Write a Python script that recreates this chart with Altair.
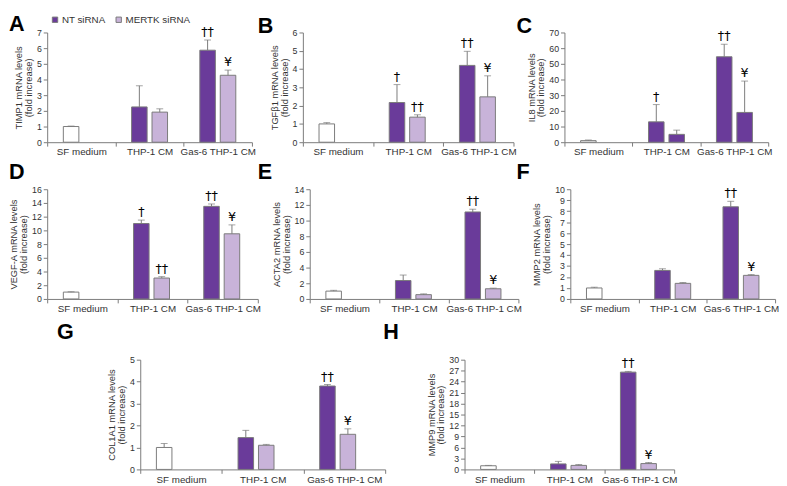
import altair as alt
import pandas as pd

# ---------------- data ----------------
conditions = ["SF medium", "THP-1 CM", "Gas-6 THP-1 CM"]
bar_condition = ["SF medium", "THP-1 CM", "THP-1 CM", "Gas-6 THP-1 CM", "Gas-6 THP-1 CM"]
bar_series = ["SF", "NT", "KD", "NT", "KD"]

A_values = [1.00, 2.25, 1.92, 5.87, 4.27]
A_errors = [0.03, 1.35, 0.21, 0.65, 0.33]
A_marks = ["", "", "", "††", "¥"]

B_values = [1.00, 2.17, 1.37, 4.20, 2.48]
B_errors = [0.07, 0.98, 0.13, 0.77, 1.15]
B_marks = ["", "†", "††", "††", "¥"]

C_values = [1.0, 13.0, 5.0, 54.5, 19.0]
C_errors = [0.4, 11.0, 2.7, 8.0, 20.0]
C_marks = ["", "†", "", "††", "¥"]

D_values = [1.00, 11.0, 3.05, 13.5, 9.5]
D_errors = [0.05, 0.5, 0.2, 0.35, 1.3]
D_marks = ["", "†", "††", "††", "¥"]

E_values = [1.00, 2.35, 0.55, 11.1, 1.30]
E_errors = [0.10, 0.70, 0.10, 0.35, 0.08]
E_marks = ["", "", "", "††", "¥"]

F_values = [1.00, 2.60, 1.42, 8.40, 2.15]
F_errors = [0.07, 0.15, 0.08, 0.50, 0.07]
F_marks = ["", "", "", "††", "¥"]

G_values = [1.00, 1.45, 1.10, 3.80, 1.60]
G_errors = [0.18, 0.33, 0.04, 0.07, 0.25]
G_marks = ["", "", "", "††", "¥"]

H_values = [1.00, 1.50, 1.10, 26.6, 1.60]
H_errors = [0.10, 0.70, 0.25, 0.20, 0.30]
H_marks = ["", "", "", "††", "¥"]

PURPLE = "#6a3b9a"
LILAC = "#c8b3d9"
GRAY = "#7a7a7a"
FONT = "Liberation Sans"
PH = 112  # plot height


def panel(letter, gene, nt_label, kd_label, values, errors, marks,
          y_max, y_step, w, letter_dx, letter_dy, leg_x, leg_y):
    names = {"SF": "SF medium", "NT": nt_label, "KD": kd_label}
    df = pd.DataFrame({
        "condition": bar_condition,
        "series": [names[s] for s in bar_series],
        "slot": ["a" if s in ("SF", "NT") else "b" for s in bar_series],
        "value": values,
        "top": [v + e for v, e in zip(values, errors)],
        "mark": marks,
    })
    x = alt.X("condition:N", sort=conditions,
              scale=alt.Scale(domain=conditions, paddingInner=0, paddingOuter=0),
              axis=alt.Axis(title=None, labelAngle=0, tickBand="extent",
                            labelFontSize=10, labelPadding=1, tickSize=4))
    xo = alt.XOffset("slot:N", scale=alt.Scale(domain=["a", "b"],
                                               paddingInner=0.24, paddingOuter=0.79))
    ticks = []
    t = 0
    while t <= y_max + 1e-9:
        ticks.append(round(t, 6))
        t += y_step
    yscale = alt.Scale(domain=[0, y_max], nice=False)
    yaxis = alt.Axis(values=ticks, title=[f"{gene} mRNA levels", "(fold increase)"],
                     labelFontSize=9, tickSize=4, labelPadding=2, titlePadding=3)
    color = alt.Color("series:N",
                      scale=alt.Scale(domain=[nt_label, kd_label, "SF medium"],
                                      range=[PURPLE, LILAC, "#ffffff"]),
                      legend=alt.Legend(values=[nt_label, kd_label], orient="none",
                                        legendX=leg_x, legendY=leg_y,
                                        direction="horizontal", title=None,
                                        symbolType="square"))
    base = alt.Chart(df)
    bars = base.mark_bar(stroke=GRAY, strokeWidth=1).encode(
        x=x, xOffset=xo, y=alt.Y("value:Q", scale=yscale, axis=yaxis), color=color)
    err = base.mark_rule(color=GRAY, strokeWidth=1).encode(
        x=x, xOffset=xo, y=alt.Y("value:Q", scale=yscale, axis=yaxis), y2="top:Q")
    cap = base.mark_tick(color=GRAY, size=7, thickness=1).encode(
        x=x, xOffset=xo, y=alt.Y("top:Q", scale=yscale, axis=yaxis))
    txt = base.transform_filter("datum.mark != ''").mark_text(
        dy=-8, fontSize=13, color="#000", font="DejaVu Sans").encode(
        x=x, xOffset=xo, y=alt.Y("top:Q", scale=yscale, axis=yaxis), text="mark:N")
    return alt.layer(bars, err, cap, txt).properties(
        width=w, height=PH,
        title=alt.Title(letter, anchor="start", frame="group",
                        dx=letter_dx, dy=letter_dy, offset=0))


A = panel("A", "TIMP1", "NT siRNA", "MERTK siRNA", A_values, A_errors, A_marks, 7, 1, 209, -39, 10, 3, -18)
B = panel("B", "TGFβ1", "NT siRNA", "MERTK siRNA", B_values, B_errors, B_marks, 6, 1, 215, -46, 10, 10, -18)
C = panel("C", "IL8", "NT siRNA", "MerTK siRNA", C_values, C_errors, C_marks, 70, 10, 208, -49, 10, 11, -18)
D = panel("D", "VEGF-A", "NT siRNA", "MERTK siRNA", D_values, D_errors, D_marks, 16, 2, 215, -39, -1, 4, -19)
E = panel("E", "ACTA2", "NT siRNA", "MERTK siRNA", E_values, E_errors, E_marks, 14, 2, 213, -53, -1, 4, -19)
F = panel("F", "MMP2", "NT siRNA", "MERTK siRNA", F_values, F_errors, F_marks, 10, 1, 209, -55, -1, 0, -19)
G = panel("G", "COL1A1", "NT siRNA", "NT siMERTK", G_values, G_errors, G_marks, 5, 1, 250, -85, -12, -3, -26)
H = panel("H", "MMP9", "NT siRNA", "MERTK siRNA", H_values, H_errors, H_marks, 30, 3, 214, -83, -12, 3, -26)

spacer = alt.Chart(pd.DataFrame({"v": [0]})).mark_point(opacity=0).encode(
    x=alt.value(0), y=alt.value(0)).properties(
    width=14, height=10, view=alt.ViewBackground(fill="#ffffff", strokeWidth=0))

row1 = alt.hconcat(A, B, C, spacing=52, bounds="flush")
row2 = alt.hconcat(D, E, F, spacing=53, bounds="flush")
row3 = alt.hconcat(spacer, G, H, spacing=81, bounds="flush")

top_rows = alt.vconcat(row1, row2, spacing=5)
chart = alt.vconcat(top_rows, row3, spacing=8).properties(
    padding={"left": 0, "top": 0, "right": 0, "bottom": 0}
).configure_view(stroke=None).configure_axis(
    domainColor=GRAY, tickColor=GRAY, labelColor="#333", titleColor="#333",
    labelFont=FONT, titleFont=FONT, titleFontSize=9.5, titleFontWeight="normal",
    titleLineHeight=10, grid=False
).configure_legend(
    labelFont=FONT, labelFontSize=10, labelColor="#333", symbolSize=30,
    symbolStrokeColor=GRAY, symbolStrokeWidth=1, columnPadding=8, labelOffset=2
).configure_title(
    font=FONT, fontSize=22, fontWeight="bold", color="#000"
)

chart.save("out.html", embed_options={"renderer": "svg", "actions": False})
